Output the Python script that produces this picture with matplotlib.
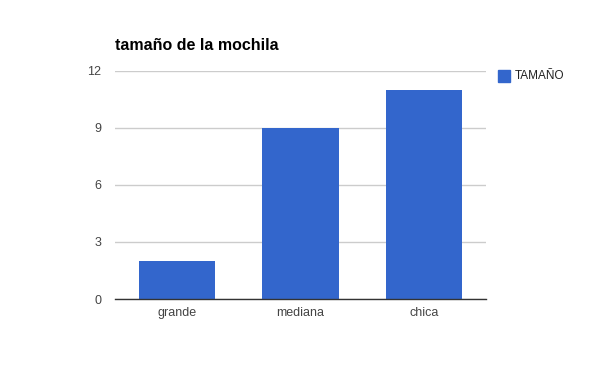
import matplotlib
matplotlib.use("Agg")
import matplotlib.pyplot as plt
from matplotlib.patches import Rectangle

categories = ["grande", "mediana", "chica"]
values = [2, 9, 11]
yticks = [0, 3, 6, 9, 12]
series_name = "TAMAÑO"
title = "tamaño de la mochila"

plt.rcParams['font.family'] = ['Liberation Sans', 'DejaVu Sans']

fig = plt.figure(figsize=(6, 3.71), dpi=100)
ax = fig.add_axes([115/600, 1-299/371, 371/600, 228/371])
color = "#3366cc"
ax.bar(range(len(categories)), values, width=0.615, color=color, zorder=3)
ax.set_xlim(-0.5, len(categories)-0.5)
ax.set_ylim(0, 12)
ax.set_yticks(yticks)
ax.set_yticklabels([str(t) for t in yticks])
ax.set_xticks(range(len(categories)))
ax.set_xticklabels(categories)
ax.grid(axis='y', color='#cccccc', linewidth=1, zorder=0)
for s in ['top', 'right', 'left']:
    ax.spines[s].set_visible(False)
ax.spines['bottom'].set_color('#333333')
ax.spines['bottom'].set_linewidth(1)
ax.spines['bottom'].set_zorder(4)
ax.tick_params(axis='both', length=0, labelsize=9, colors='#444444')
ax.tick_params(axis='y', pad=10)
ax.tick_params(axis='x', pad=6)
fig.text(115/600, 1-45/371, title, fontsize=11.5, fontweight='bold', va='center', ha='left', color='#000000')
# legend
fig.patches.append(Rectangle((498/600, 1-82/371), 12/600, 12/371, transform=fig.transFigure, color=color, figure=fig))
fig.text(515/600, 1-76/371, series_name, fontsize=8.5, va='center', ha='left', color='#222222')
fig.savefig("out.png", dpi=100)
